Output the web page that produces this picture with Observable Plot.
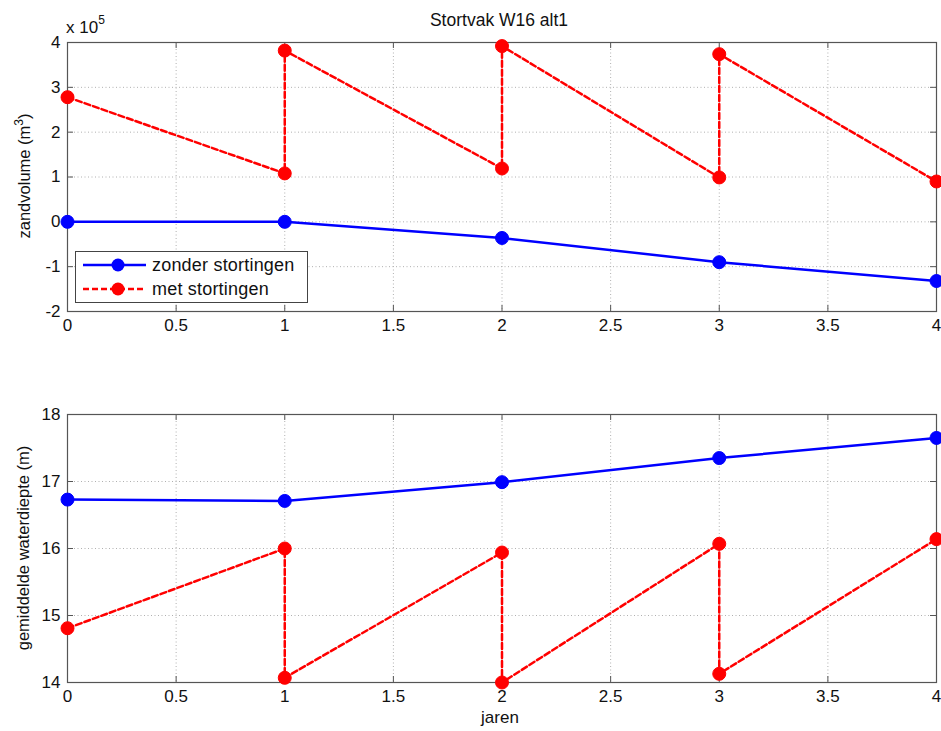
<!DOCTYPE html>
<html>
<head>
<meta charset="utf-8">
<script src="https://cdn.jsdelivr.net/npm/d3@7"></script>
<script src="https://cdn.jsdelivr.net/npm/@observablehq/plot@0.6"></script>
<style>
  html, body { margin: 0; padding: 0; background: #fff; }
  body { width: 941px; height: 731px; position: relative; overflow: hidden;
         font-family: "Liberation Sans", Arial, Helvetica, sans-serif; color: #111; }
  .abs { position: absolute; white-space: nowrap; }
  #top { position: absolute; left: 0; top: 0; }
  #bottom { position: absolute; left: 0; top: 340px; }
  .ylab { position: absolute; transform: translate(-50%, -50%) rotate(-90deg); font-size: 16.5px; white-space: nowrap; }
  #legend { position: absolute; left: 75px; top: 251px; width: 231px; height: 50px;
            border: 1px solid #444; background: #fff; }
  #legend .row { position: absolute; left: 0; height: 24px; display: flex; align-items: center; font-size: 18px; letter-spacing: 0.2px; }
</style>
</head>
<body>
<div id="top"></div>
<div id="bottom"></div>
<div class="abs" style="left:0;width:998px;top:10px;text-align:center;font-size:17.5px;">Stortvak W16 alt1</div>
<div class="abs" style="left:66px;top:15px;font-size:17px;">x 10<sup style="font-size:12px;position:relative;top:-2px;">5</sup></div>
<div class="ylab" style="left:23px;top:176px;">zandvolume (m<sup style="font-size:12px;">3</sup>)</div>
<div class="ylab" style="left:23px;top:548px;">gemiddelde waterdiepte (m)</div>
<div class="abs" style="left:0;width:1000px;top:708px;text-align:center;font-size:17px;">jaren</div>
<div id="legend"></div>
<script>
// ---- data ----
const years = [0, 1, 2, 3, 4];
const zonderVolume = [0, 0, -0.36, -0.9, -1.32];          // x 10^5 m3
const metYears = [0, 1, 1, 2, 2, 3, 3, 4];
const metVolume = [2.78, 1.08, 3.82, 1.19, 3.92, 0.99, 3.74, 0.90];
const zonderDiepte = [16.73, 16.71, 16.99, 17.35, 17.65];
const metDiepte = [14.81, 16.0, 14.07, 15.94, 14.0, 16.07, 14.13, 16.14];
const xTicks = [0, 0.5, 1, 1.5, 2, 2.5, 3, 3.5, 4];
const volumeTicks = [-2, -1, 0, 1, 2, 3, 4];
const diepteTicks = [14, 15, 16, 17, 18];
const seriesNames = ["zonder stortingen", "met stortingen"];

const BLUE = "#0000ff", RED = "#ff0000";
const DASH = "6,3";

function panel({zonder, met, yDomain, yTicks, height, marginTop, marginBottom}) {
  const zData = years.map((x, i) => ({x, y: zonder[i]}));
  const mData = metYears.map((x, i) => ({x, y: met[i]}));
  const plotW = 941 - 67 - 5;
  const plotH = height - marginTop - marginBottom;
  const tk = 6;
  return Plot.plot({
    width: 941, height, marginLeft: 67, marginRight: 5, marginTop, marginBottom,
    style: {fontFamily: "Liberation Sans, Arial, sans-serif", fontSize: "17px", color: "#111", background: "white"},
    x: {domain: [0, 4]},
    y: {domain: yDomain},
    marks: [
      Plot.gridX(xTicks.filter(d => d > 0 && d < 4), {stroke: "#b0b0b0", strokeOpacity: 1, strokeDasharray: "1,2.5"}),
      Plot.gridY(yTicks.filter(d => d > yDomain[0] && d < yDomain[1]), {stroke: "#b0b0b0", strokeOpacity: 1, strokeDasharray: "1,2.5"}),
      // inward tick marks on all four sides
      Plot.tickX(xTicks, {x: d => d, insetBottom: plotH - tk, stroke: "#555"}),
      Plot.tickX(xTicks, {x: d => d, insetTop: plotH - tk, stroke: "#555"}),
      Plot.tickY(yTicks, {y: d => d, insetRight: plotW - tk, stroke: "#555"}),
      Plot.tickY(yTicks, {y: d => d, insetLeft: plotW - tk, stroke: "#555"}),
      Plot.axisX(xTicks, {tickSize: 0, tickPadding: 7, label: null, tickFormat: d => String(d)}),
      Plot.axisY(yTicks, {tickSize: 0, tickPadding: 7, label: null, tickFormat: d => String(d)}),
      Plot.frame({stroke: "#555", strokeWidth: 1.2}),
      Plot.line(zData, {x: "x", y: "y", stroke: BLUE, strokeWidth: 2.5}),
      Plot.dot(zData, {x: "x", y: "y", r: 6.5, fill: BLUE, stroke: BLUE, strokeWidth: 1}),
      Plot.line(mData, {x: "x", y: "y", stroke: RED, strokeWidth: 2.5, strokeDasharray: DASH}),
      Plot.dot(mData, {x: "x", y: "y", r: 6.5, fill: RED, stroke: RED, strokeWidth: 1})
    ]
  });
}

document.getElementById("top").appendChild(panel({
  zonder: zonderVolume, met: metVolume, yDomain: [-2, 4], yTicks: volumeTicks,
  height: 340, marginTop: 42, marginBottom: 29
}));
document.getElementById("bottom").appendChild(panel({
  zonder: zonderDiepte, met: metDiepte, yDomain: [14, 18], yTicks: diepteTicks,
  height: 391, marginTop: 74, marginBottom: 49
}));

// legend
const legend = document.getElementById("legend");
[[BLUE, null], [RED, DASH]].forEach(([c, dash], i) => {
  const row = document.createElement("div");
  row.className = "row";
  row.style.top = (i === 0 ? 1 : 25) + "px";
  row.innerHTML = `<svg width="76" height="24" style="display:block">
      <line x1="7" x2="70" y1="12" y2="12" stroke="${c}" stroke-width="2.5" ${dash ? `stroke-dasharray="${dash}"` : ""}/>
      <circle cx="42" cy="12" r="6.5" fill="${c}"/></svg><span>${seriesNames[i]}</span>`;
  legend.appendChild(row);
});
</script>
</body>
</html>
